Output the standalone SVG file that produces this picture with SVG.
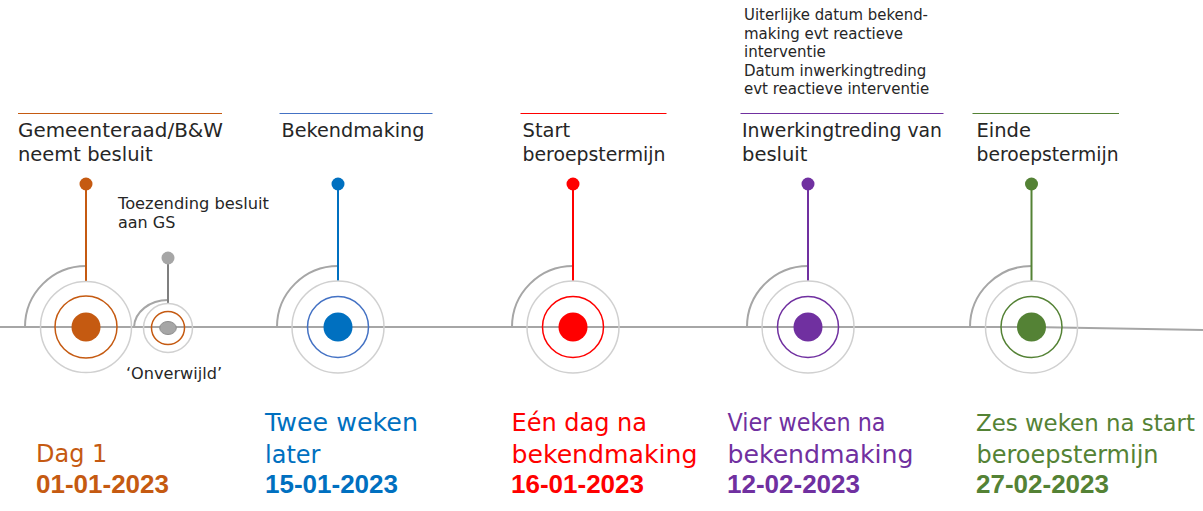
<svg xmlns="http://www.w3.org/2000/svg" width="1203" height="511" viewBox="0 0 1203 511">
<style>
.lbl{font-family:"DejaVu Sans","Liberation Sans",sans-serif;font-size:19.5px;fill:#262626}
.sm{font-family:"DejaVu Sans","Liberation Sans",sans-serif;font-size:16px;fill:#262626}
.xs{font-family:"DejaVu Sans","Liberation Sans",sans-serif;font-size:15px;fill:#262626}
.big{font-family:"DejaVu Sans","Liberation Sans",sans-serif;font-size:24px}
.date{font-family:"Liberation Sans",Arial,sans-serif;font-size:26px;font-weight:bold}
.arc{fill:none;stroke:#a6a6a6;stroke-width:2}
.outer{fill:none;stroke:#d0d0d0;stroke-width:1.5}
.ring{fill:none;stroke-width:1.5}
.stem{stroke-width:2}
.top{stroke-width:1.2}
</style>
<rect width="1203" height="511" fill="#ffffff"/>
<g id="connectors">
  <polyline points="0,327 1032,327 1203,330" fill="none" stroke="#a6a6a6" stroke-width="2"/>
</g>
<g id="node-besluit">
  <line class="top" x1="18" y1="113.5" x2="222" y2="113.5" stroke="#c55a11"/>
  <text class="lbl" x="18" y="137" textLength="205" lengthAdjust="spacingAndGlyphs">Gemeenteraad/B&amp;W</text>
  <text class="lbl" x="18" y="161">neemt besluit</text>
  <path class="arc" d="M25,327 A61,61 0 0 1 86,266"/>
  <line class="stem" x1="86" y1="184" x2="86" y2="281" stroke="#c55a11"/>
  <circle cx="86" cy="184" r="6.5" fill="#c55a11"/>
  <circle class="outer" cx="86" cy="327" r="45.5"/>
  <circle class="ring" cx="86" cy="327" r="31" stroke="#c55a11"/>
  <circle cx="86" cy="327" r="14.5" fill="#c55a11"/>
  <text class="big" x="36" y="462" fill="#c55a11">Dag 1</text>
  <text class="date" x="36" y="493" fill="#c55a11">01-01-2023</text>
</g>
<g id="node-toezending">
  <text class="sm" x="118" y="209" textLength="151" lengthAdjust="spacingAndGlyphs">Toezending besluit</text>
  <text class="sm" x="118" y="228">aan GS</text>
  <path class="arc" d="M134,327 A34,28 0 0 1 168,300"/>
  <line x1="168" y1="258" x2="168" y2="303" stroke="#7f7f7f" stroke-width="2"/>
  <circle cx="168" cy="258" r="6.5" fill="#a6a6a6"/>
  <circle class="outer" cx="168" cy="328" r="24.5"/>
  <circle class="ring" cx="168" cy="328" r="16.5" stroke="#c55a11"/>
  <ellipse cx="168" cy="328" rx="8.3" ry="6.5" fill="#a6a6a6" stroke="#8c8c8c" stroke-width="1"/>
  <text class="sm" x="126" y="379" textLength="96" lengthAdjust="spacingAndGlyphs">‘Onverwijld’</text>
</g>
<g id="node-bekendmaking">
  <line class="top" x1="279.5" y1="113.5" x2="432.5" y2="113.5" stroke="#4472c4"/>
  <text class="lbl" x="281.5" y="137" textLength="143" lengthAdjust="spacingAndGlyphs">Bekendmaking</text>
  <path class="arc" d="M277,327 A61,61 0 0 1 338,266"/>
  <line class="stem" x1="338" y1="184" x2="338" y2="281" stroke="#0070c0"/>
  <circle cx="338" cy="184" r="6.5" fill="#0070c0"/>
  <circle class="outer" cx="338" cy="327" r="46"/>
  <circle class="ring" cx="338" cy="327" r="30.5" stroke="#4472c4"/>
  <circle cx="338" cy="327" r="14.5" fill="#0070c0"/>
  <text class="big" x="265" y="431" fill="#0070c0" textLength="153" lengthAdjust="spacingAndGlyphs">Twee weken</text>
  <text class="big" x="265" y="463" fill="#0070c0">later</text>
  <text class="date" x="265" y="493" fill="#0070c0">15-01-2023</text>
</g>
<g id="node-start">
  <line class="top" x1="520.5" y1="113.5" x2="666.5" y2="113.5" stroke="#ff0000"/>
  <text class="lbl" x="522.5" y="137">Start</text>
  <text class="lbl" x="522.5" y="161" textLength="143" lengthAdjust="spacingAndGlyphs">beroepstermijn</text>
  <path class="arc" d="M512,327 A61,61 0 0 1 573,266"/>
  <line class="stem" x1="573" y1="184" x2="573" y2="281" stroke="#ff0000"/>
  <circle cx="573" cy="184" r="6.5" fill="#ff0000"/>
  <circle class="outer" cx="573" cy="327" r="46"/>
  <circle class="ring" cx="573" cy="327" r="30.5" stroke="#ff0000"/>
  <circle cx="573" cy="327" r="14.5" fill="#ff0000"/>
  <text class="big" x="511.5" y="431" fill="#ff0000">Eén dag na</text>
  <text class="big" x="511.5" y="463" fill="#ff0000" textLength="186" lengthAdjust="spacingAndGlyphs">bekendmaking</text>
  <text class="date" x="511" y="493" fill="#ff0000">16-01-2023</text>
</g>
<g id="node-inwerkingtreding">
  <text class="xs" x="744" y="20" textLength="184" lengthAdjust="spacingAndGlyphs">Uiterlijke datum bekend-</text>
  <text class="xs" x="744" y="38.5">making evt reactieve</text>
  <text class="xs" x="744" y="57">interventie</text>
  <text class="xs" x="744" y="75.5">Datum inwerkingtreding</text>
  <text class="xs" x="744" y="94">evt reactieve interventie</text>
  <line class="top" x1="740.5" y1="113.5" x2="943.5" y2="113.5" stroke="#7030a0"/>
  <text class="lbl" x="742" y="137" textLength="200" lengthAdjust="spacingAndGlyphs">Inwerkingtreding van</text>
  <text class="lbl" x="742" y="161">besluit</text>
  <path class="arc" d="M747,327 A61,61 0 0 1 808,266"/>
  <line class="stem" x1="808" y1="184" x2="808" y2="281" stroke="#7030a0"/>
  <circle cx="808" cy="184" r="6.5" fill="#7030a0"/>
  <circle class="outer" cx="808" cy="327" r="46"/>
  <circle class="ring" cx="808" cy="327" r="30.5" stroke="#7030a0"/>
  <circle cx="808" cy="327" r="14.5" fill="#7030a0"/>
  <text class="big" x="727.5" y="431" fill="#7030a0" textLength="158" lengthAdjust="spacingAndGlyphs">Vier weken na</text>
  <text class="big" x="727.5" y="463" fill="#7030a0" textLength="186" lengthAdjust="spacingAndGlyphs">bekendmaking</text>
  <text class="date" x="727" y="493" fill="#7030a0">12-02-2023</text>
</g>
<g id="node-einde">
  <line class="top" x1="972.5" y1="113.5" x2="1119" y2="113.5" stroke="#548235"/>
  <text class="lbl" x="976.5" y="137">Einde</text>
  <text class="lbl" x="976.5" y="161" textLength="142" lengthAdjust="spacingAndGlyphs">beroepstermijn</text>
  <path class="arc" d="M970,327 A61.5,61 0 0 1 1031.5,266"/>
  <line class="stem" x1="1031.5" y1="184" x2="1031.5" y2="281" stroke="#548235"/>
  <circle cx="1031.5" cy="184" r="6.5" fill="#548235"/>
  <circle class="outer" cx="1031.5" cy="327" r="46"/>
  <circle class="ring" cx="1031.5" cy="327" r="30.5" stroke="#548235"/>
  <circle cx="1031.5" cy="327" r="14.5" fill="#548235"/>
  <text class="big" x="976" y="431" fill="#548235" style="font-size:23px" textLength="219" lengthAdjust="spacingAndGlyphs">Zes weken na start</text>
  <text class="big" x="976.5" y="463" fill="#548235" textLength="182" lengthAdjust="spacingAndGlyphs">beroepstermijn</text>
  <text class="date" x="976" y="493" fill="#548235">27-02-2023</text>
</g>
</svg>
